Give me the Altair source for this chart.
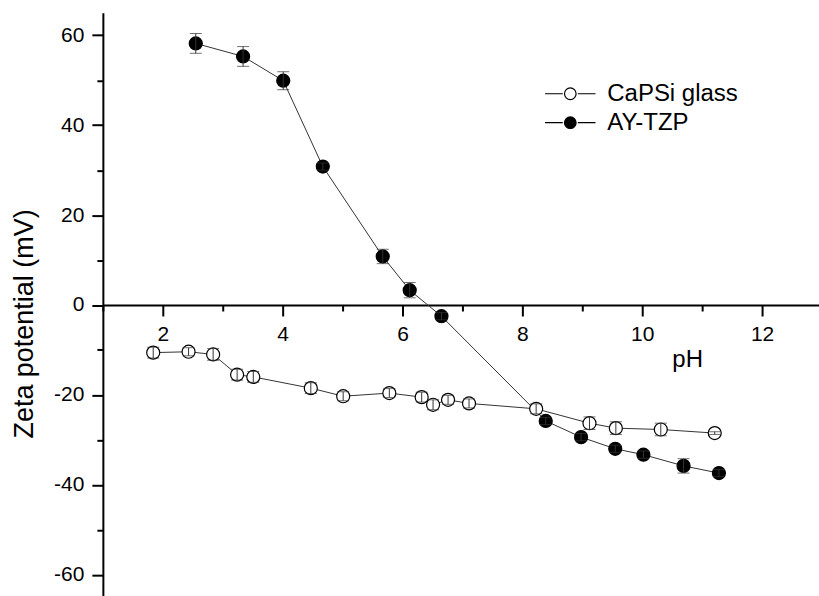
import altair as alt
import pandas as pd

# ---- data ----
capsi_ph = [1.84, 2.43, 2.84, 3.24, 3.51, 4.47, 5.01, 5.78, 6.32, 6.51, 6.76, 7.11, 8.23, 9.12, 9.56, 10.31, 11.21]
capsi_zeta = [-10.6, -10.4, -11.0, -15.5, -16.0, -18.5, -20.3, -19.6, -20.5, -22.2, -21.1, -21.9, -23.1, -26.3, -27.4, -27.7, -28.5]
capsi_err = [1.2, 0.9, 1.3, 1.2, 1.2, 1.2, 1.0, 1.0, 1.1, 1.1, 1.0, 1.0, 1.1, 1.4, 1.4, 1.4, 0.3]

aytzp_ph = [2.55, 3.34, 4.01, 4.67, 5.67, 6.12, 6.65, 8.39, 8.98, 9.55, 10.02, 10.69, 11.28]
aytzp_zeta = [58.2, 55.3, 49.9, 30.8, 10.8, 3.3, -2.5, -25.8, -29.4, -32.0, -33.3, -35.8, -37.4]
aytzp_err = [2.2, 2.2, 2.0, 0.8, 1.6, 1.7, 0.8, 0.8, 0.8, 0.8, 0.8, 1.6, 0.8]

series_names = ["CaPSi glass", "AY-TZP"]
x_ticks = [1, 2, 3, 4, 5, 6, 7, 8, 9, 10, 11, 12, 13]
y_ticks = [-60, -50, -40, -30, -20, -10, 0, 10, 20, 30, 40, 50, 60]

rows = []
for p, z, e in zip(capsi_ph, capsi_zeta, capsi_err):
    rows.append({"series": series_names[0], "ph": p, "zeta": z, "lo": z - e, "hi": z + e})
for p, z, e in zip(aytzp_ph, aytzp_zeta, aytzp_err):
    rows.append({"series": series_names[1], "ph": p, "zeta": z, "lo": z - e, "hi": z + e})
df = pd.DataFrame(rows)

FONT = "Liberation Sans"
W, H = 717, 585
Y_MIN, Y_MAX = -65, 65
x_offset = -H * (0 - Y_MIN) / (Y_MAX - Y_MIN)  # put the pH axis on the zero line

xs = alt.Scale(domain=[1, 12.95], nice=False, zero=False)
ys = alt.Scale(domain=[Y_MIN, Y_MAX], nice=False, zero=False)

common_axis = dict(domainColor="black", tickColor="black", labelColor="black",
                   titleColor="black", labelFont=FONT, titleFont=FONT, grid=False,
                   tickWidth=2, domainWidth=2, labelFontSize=21, titleFontWeight="normal")

x_axis = alt.Axis(values=x_ticks, orient="bottom", offset=x_offset,
                  tickSize={"condition": {"test": "datum.value % 2 === 0", "value": 11}, "value": 6},
                  labelExpr="datum.value % 2 === 0 ? '' + datum.value : ''",
                  labelPadding=8, title="pH",
                  titleFontSize=24, titleX=585, titleY=62,
                  titleAlign="center", titleBaseline="alphabetic", **common_axis)
y_axis = alt.Axis(values=y_ticks, orient="left",
                  tickSize={"condition": {"test": "datum.value % 20 === 0", "value": 11}, "value": 6},
                  labelExpr="datum.value % 20 === 0 ? (datum.value < 0 ? '-' + abs(datum.value) : '' + datum.value) : ''",
                  labelPadding=8, title="Zeta potential (mV)",
                  titleFontSize=27, titleAngle=270, titleX=-70,
                  titleY=311, titleAlign="center", titleBaseline="alphabetic", **common_axis)

base = alt.Chart(df)

lines = base.mark_line(color="#333333", strokeWidth=1).encode(
    x=alt.X("ph:Q", scale=xs, axis=x_axis),
    y=alt.Y("zeta:Q", scale=ys, axis=y_axis),
    detail="series:N",
)

legend_symbol = "M -4.35 0 L -1.3 0 M 1.3 0 L 4.35 0 M -1 0 A 1 1 0 1 0 1 0 A 1 1 0 1 0 -1 0 Z"

points = base.mark_point(shape="circle", filled=True, stroke="black", strokeWidth=1.2,
                         size=170, opacity=1).encode(
    x=alt.X("ph:Q"),
    y=alt.Y("zeta:Q"),
    fill=alt.Fill("series:N", scale=alt.Scale(domain=series_names, range=["white", "black"]),
                  legend=alt.Legend(title=None, orient="none", legendX=456, legendY=69,
                                    symbolType=legend_symbol, symbolSize=135,
                                    symbolStrokeColor="black", symbolStrokeWidth=1.2,
                                    labelFont=FONT, labelFontSize=24, labelColor="black",
                                    labelOffset=25, rowPadding=5, padding=0)),
)

bars = base.mark_rule(color="#333333", strokeWidth=1).encode(
    x=alt.X("ph:Q"),
    y=alt.Y("lo:Q"),
    y2="hi:Q",
)
caps_lo = base.mark_tick(orient="horizontal", color="#333333", size=12, thickness=1).encode(
    x=alt.X("ph:Q"),
    y=alt.Y("lo:Q"),
)
caps_hi = base.mark_tick(orient="horizontal", color="#333333", size=12, thickness=1).encode(
    x=alt.X("ph:Q"),
    y=alt.Y("hi:Q"),
)

chart = alt.layer(lines, points, bars, caps_lo, caps_hi).properties(
    width=W, height=H,
    autosize=alt.AutoSizeParams(type="none"),
    padding={"left": 103, "top": 12.5, "right": 0, "bottom": 0},
    background="white",
).configure_view(stroke=None)

chart.save("out.html", embed_options={"renderer": "svg", "actions": False})
